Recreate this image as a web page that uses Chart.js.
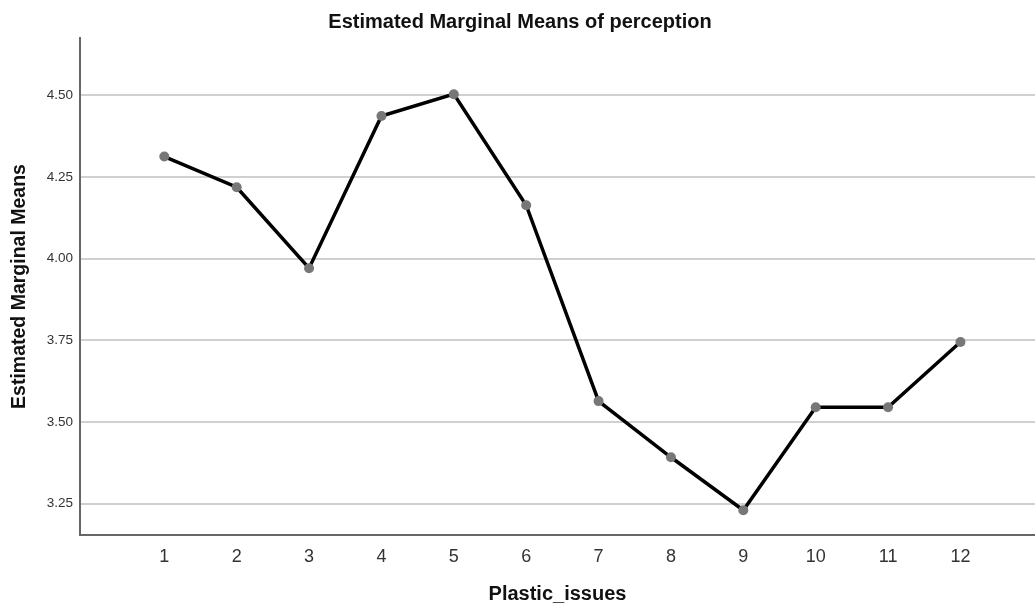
<!DOCTYPE html>
<html>
<head>
<meta charset="utf-8">
<script src="https://cdn.jsdelivr.net/npm/chart.js@4"></script>
<style>
  html, body { margin: 0; padding: 0; background: #fff; overflow: hidden; }
  #wrap { width: 1040px; height: 606px; }
</style>
</head>
<body>
<div id="wrap"><canvas id="lineChart"></canvas></div>
<script>
// data
var categories = [1, 2, 3, 4, 5, 6, 7, 8, 9, 10, 11, 12];
var means = [4.313, 4.219, 3.971, 4.437, 4.504, 4.164, 3.564, 3.392, 3.230, 3.545, 3.545, 3.745];
var yTicks = [3.25, 3.50, 3.75, 4.00, 4.25, 4.50];

Chart.defaults.font.family = '"Liberation Sans", Arial, sans-serif';

var points = categories.map(function (c, i) { return { x: c, y: means[i] }; });

var ctx = document.getElementById('lineChart').getContext('2d');
var myChart = new Chart(ctx, {
    type: 'line',
    data: {
        datasets: [
            {
                label: 'perception',
                data: points,
                borderColor: '#000000',
                borderWidth: 3.5,
                pointBackgroundColor: '#777777',
                pointBorderWidth: 0,
                pointRadius: 5,
                tension: 0
            }
        ]
    },
    options: {
        responsive: true,
        maintainAspectRatio: false,
        animation: false,
        layout: { padding: 0 },
        plugins: {
            legend: { display: false },
            tooltip: { enabled: false },
            title: {
                display: true,
                text: 'Estimated Marginal Means of perception',
                color: '#111',
                font: { size: 20, weight: 'bold' },
                padding: { top: 10, bottom: 4 }
            }
        },
        scales: {
            x: {
                type: 'linear',
                min: -0.165,
                max: 13.03,
                afterBuildTicks: function (scale) {
                    scale.ticks = categories.map(function (c) { return { value: c }; });
                },
                afterFit: function (scale) { scale.height = 71; },
                grid: { display: false, drawTicks: false },
                border: { display: true, color: '#666', width: 2 },
                ticks: {
                    color: '#333',
                    font: { size: 18 },
                    padding: 11,
                    maxRotation: 0,
                    autoSkip: false
                },
                title: {
                    display: true,
                    text: 'Plastic_issues',
                    color: '#111',
                    font: { size: 20, weight: 'bold' },
                    padding: { top: 0, bottom: 0 }
                }
            },
            y: {
                min: 3.154,
                max: 4.676,
                afterBuildTicks: function (scale) {
                    scale.ticks = yTicks.map(function (v) { return { value: v }; });
                },
                afterFit: function (scale) { scale.width = 80; },
                grid: { color: '#d0d0d0', lineWidth: 2, drawTicks: false },
                border: { display: true, color: '#666', width: 2 },
                ticks: {
                    color: '#333',
                    font: { size: 13.5 },
                    padding: 7,
                    callback: function (v) { return Number(v).toFixed(2); }
                },
                title: {
                    display: true,
                    text: 'Estimated Marginal Means',
                    color: '#111',
                    font: { size: 19.5, weight: 'bold' },
                    padding: { top: 8, bottom: 4 }
                }
            }
        }
    }
});
</script>
</body>
</html>
